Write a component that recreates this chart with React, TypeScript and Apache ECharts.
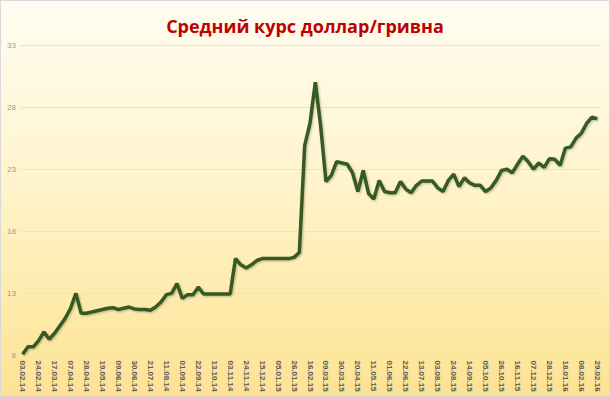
import React, { useEffect, useRef } from "react";
import * as echarts from "echarts";

const titleText = "Средний курс доллар/гривна";

// Weekly dates (Mondays) from 03.02.14 to 29.02.16
const startYear = 2014;
const startMonth = 2;
const startDay = 3;
const weekCount = 109;
function buildDates(): string[] {
  const out: string[] = [];
  const d = new Date(Date.UTC(startYear, startMonth - 1, startDay));
  for (let i = 0; i < weekCount; i++) {
    const dd = String(d.getUTCDate()).padStart(2, "0");
    const mm = String(d.getUTCMonth() + 1).padStart(2, "0");
    const yy = String(d.getUTCFullYear() % 100).padStart(2, "0");
    out.push(`${dd}.${mm}.${yy}`);
    d.setUTCDate(d.getUTCDate() + 7);
  }
  return out;
}
const categories = buildDates();

const rateValues = [
  8.1, 8.7, 8.7, 9.2, 9.9, 9.3, 9.8, 10.4, 11.0, 11.8,
  13.0, 11.4, 11.4, 11.5, 11.6, 11.7, 11.8, 11.85, 11.7, 11.8,
  11.9, 11.75, 11.7, 11.7, 11.65, 11.9, 12.3, 12.9, 13.0, 13.8,
  12.6, 12.9, 12.9, 13.5, 12.95, 12.95, 12.95, 12.95, 12.95, 12.95,
  15.8, 15.3, 15.05, 15.3, 15.65, 15.8, 15.8, 15.8, 15.8, 15.8,
  15.8, 15.9, 16.3, 24.9, 26.7, 30.0, 26.5, 22.0, 22.5, 23.6,
  23.5, 23.4, 22.7, 21.2, 22.9, 21.05, 20.6, 22.1, 21.2, 21.1,
  21.1, 22.0, 21.4, 21.1, 21.7, 22.05, 22.05, 22.05, 21.5, 21.2,
  22.1, 22.6, 21.6, 22.3, 21.9, 21.7, 21.7, 21.2, 21.5, 22.1,
  22.9, 23.0, 22.7, 23.4, 24.05, 23.6, 23.0, 23.5, 23.15, 23.85,
  23.8, 23.3, 24.7, 24.8, 25.5, 25.9, 26.7, 27.2, 27.05,
];

const yMin = 8;
const yMax = 33;
const yStep = 5;

export default function App() {
  const ref = useRef<HTMLDivElement>(null);
  useEffect(() => {
    if (!ref.current) return;
    const chart = echarts.init(ref.current, undefined, { renderer: "svg" });
    chart.setOption({
      animation: false,
      title: {
        text: titleText,
        left: "center",
        top: 11,
        textStyle: {
          color: "#C00000",
          fontSize: 18,
          fontWeight: "bold",
          fontFamily: "Open Sans",
        },
      },
      grid: { left: 19, right: 9, top: 44, bottom: 40.5, containLabel: false },
      xAxis: {
        type: "category",
        data: categories,
        boundaryGap: true,
        axisLine: { show: false },
        axisTick: { show: false },
        axisLabel: {
          interval: 2,
          rotate: -90,
          color: "#595959",
          fontSize: 8,
          fontWeight: "bold",
          fontFamily: "Liberation Sans",
          margin: 5,
        },
        splitLine: { show: false },
      },
      yAxis: {
        type: "value",
        min: yMin,
        max: yMax,
        interval: yStep,
        axisLine: { show: false },
        axisTick: { show: false },
        axisLabel: {
          color: "#999999",
          fontSize: 8,
          fontFamily: "Liberation Sans",
          margin: 4,
        },
        splitLine: { lineStyle: { color: "#e9e3d2", width: 1 } },
      },
      series: [
        {
          type: "line",
          data: rateValues,
          showSymbol: false,
          symbol: "none",
          lineStyle: {
            color: "#355a23",
            width: 3.5,
            shadowColor: "rgba(0,0,0,0.25)",
            shadowBlur: 2,
            shadowOffsetX: 1,
            shadowOffsetY: 1,
          },
        },
      ],
    });
    return () => chart.dispose();
  }, []);
  return (
    <div
      style={{
        position: "absolute",
        left: 0,
        top: 0,
        width: 610,
        height: 397,
        boxSizing: "border-box",
        border: "1px solid #d9d9d9",
        background:
          "linear-gradient(to bottom, #FFFDF2 0%, #FFF6D6 35%, #FEEDB2 70%, #FDE294 100%)",
      }}
    >
      <div ref={ref} style={{ width: 608, height: 395 }} />
    </div>
  );
}
